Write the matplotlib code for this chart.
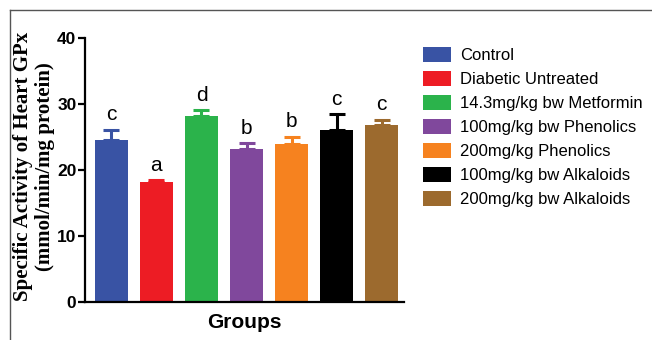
import numpy as np
import matplotlib.pyplot as plt
from matplotlib.lines import Line2D
from matplotlib.patches import Patch

# data
groups = ['Control', 'Diabetic Untreated', '14.3mg/kg bw Metformin',
          '100mg/kg bw Phenolics', '200mg/kg Phenolics',
          '100mg/kg bw Alkaloids', '200mg/kg bw Alkaloids']
means = [24.5, 18.1, 28.1, 23.1, 23.9, 26.1, 26.8]
errs = [1.6, 0.3, 0.9, 0.9, 1.1, 2.3, 0.8]
letters = ['c', 'a', 'd', 'b', 'b', 'c', 'c']
colors = ['#3953a4', '#ed1c24', '#2bb34b', '#80489c', '#f6821f', '#000000', '#9c6a2e']

fig = plt.figure(figsize=(6.52, 3.40), dpi=100)
ax = fig.add_axes([0.130, 0.112, 0.490, 0.777])

x = np.arange(len(means))
ax.bar(x, means, width=0.73, color=colors, zorder=2)
for i in range(len(means)):
    ax.errorbar(x[i], means[i], yerr=[[0], [errs[i]]], fmt='none',
                ecolor=colors[i], elinewidth=2.2, capsize=5.5, capthick=2.2, zorder=1)
    ax.annotate(letters[i], (x[i], means[i] + errs[i]), xytext=(0, 4),
                textcoords='offset points', ha='center', va='bottom',
                fontsize=15, family='Liberation Sans')

ax.set_xlim(-0.59, 6.5)
ax.set_ylim(0, 40)
ax.set_yticks([0, 10, 20, 30, 40])
ax.set_xticks([])
for s in ['top', 'right']:
    ax.spines[s].set_visible(False)
ax.spines['left'].set_linewidth(1.6)
ax.spines['bottom'].set_linewidth(1.6)
ax.tick_params(axis='y', length=5, width=1.6, labelsize=12.5, pad=1)
for t in ax.get_yticklabels():
    t.set_fontfamily('Liberation Sans')
    t.set_fontweight('bold')

ax.set_xlabel('Groups', fontsize=15, fontweight='bold', family='Liberation Sans', labelpad=8)
fig.text(0.035, 0.51, 'Specific Activity of Heart GPx', rotation=90, ha='center', va='center',
         fontsize=15, fontweight='bold', family='Liberation Serif')
fig.text(0.069, 0.51, '(mmol/min/mg protein)', rotation=90, ha='center', va='center',
         fontsize=15, fontweight='bold', family='Liberation Serif')

handles = [Patch(facecolor=c) for c in colors]
fig.legend(handles, groups, loc='upper left', bbox_to_anchor=(0.626, 0.905),
           frameon=False, handlelength=1.7, handleheight=1.0,
           handletextpad=0.5, labelspacing=0.47, prop={'family': 'Liberation Sans', 'size': 12})

# thin frame round the picture, as in the source scan
fig.add_artist(Line2D([10 / 652, 1], [1 - 10 / 340, 1 - 10 / 340], color='#555555', lw=1.0))
fig.add_artist(Line2D([10 / 652, 10 / 652], [0, 1 - 10 / 340], color='#555555', lw=1.0))

fig.savefig('out.png', dpi=100)
